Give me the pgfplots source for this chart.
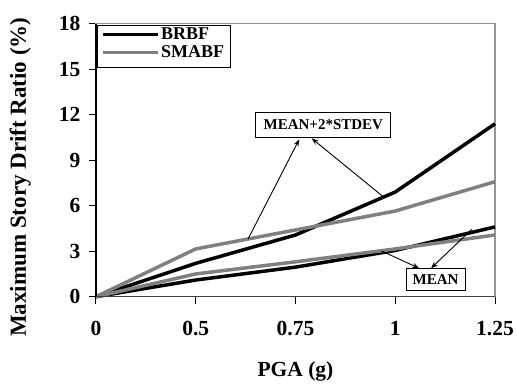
\documentclass[border=0pt]{standalone}
\usepackage{fontspec}
\setmainfont{Liberation Serif}
\usepackage{pgfplots}
\pgfplotsset{compat=1.18}
\usetikzlibrary{arrows.meta}
\definecolor{smgray}{RGB}{128,128,128}
\definecolor{axgray}{RGB}{150,150,150}
\begin{document}
\begin{tikzpicture}
\begin{axis}[name=ax, scale only axis, width=399pt, height=273pt,
 xmin=0, xmax=4, ymin=0, ymax=18,
 xtick={0,1,2,3,4}, xticklabels={0,0.5,0.75,1,1.25},
 ytick={0,3,...,18},
 tick align=outside, xtick pos=bottom, ytick pos=left,
 major tick length=7pt,
 tick style={black, line width=1pt},
 axis line style={axgray, line width=1.2pt},
 /pgf/number format/assume math mode=true,
 ticklabel style={font=\fontsize{21.5}{21.5}\selectfont\bfseries},
 xticklabel style={yshift=-14pt},
 yticklabel style={xshift=-5pt},
 xlabel={PGA (g)}, ylabel={Maximum Story Drift Ratio (\%)},
 xlabel style={font=\fontsize{21.5}{21.5}\selectfont\bfseries, at={(axis description cs:0.5,-0.272)}, anchor=center},
 ylabel style={font=\fontsize{23}{23}\selectfont\bfseries, at={(axis description cs:-0.19,0.438)}, anchor=center},
 legend style={at={(rel axis cs:0.002,0.996)}, anchor=north west, draw=black, line width=0.8pt,
   font=\fontsize{18}{18}\selectfont\bfseries, inner xsep=4pt, inner ysep=1pt, row sep=0pt},
 legend cell align=left,
 legend image code/.code={\draw[#1, line width=3pt] (0pt,0pt) -- (55pt,0pt);},
 clip=false,
]
\addplot[black, line width=3.5pt, line join=round] table {
x y
0 0
1 2.2
2 4.07
3 6.9
4 11.4
};
\addlegendentry{BRBF}
\addplot[smgray, line width=3.5pt, line join=round] table {
x y
0 0
1 3.15
2 4.4
3 5.65
4 7.58
};
\addlegendentry{SMABF}
\addlegendimage{empty legend}
\addlegendentry{}
\addplot[black, line width=3.5pt, line join=round, forget plot] table {
x y
0 0
1 1.1
2 1.95
3 3.05
4 4.6
};
\addplot[smgray, line width=3.5pt, line join=round, forget plot] table {
x y
0 0
1 1.5
2 2.3
3 3.15
4 4.07
};
\draw[black, line width=1.2pt] (rel axis cs:0,1) -- (rel axis cs:0,0);
\draw[black!75, line width=1.2pt] (rel axis cs:0,0) -- (rel axis cs:1,0);
\node[draw=black, line width=0.8pt, fill=white, minimum width=135pt, minimum height=25pt, inner sep=0pt,
  font=\fontsize{15}{15}\selectfont\bfseries] at (axis cs:2.279,11.32) {MEAN+2*STDEV};
\node[draw=black, line width=0.8pt, fill=white, minimum width=59pt, minimum height=22pt, inner sep=0pt,
  font=\fontsize{15}{15}\selectfont\bfseries] at (axis cs:3.404,1.11) {MEAN};
\draw[-{Stealth[length=7pt,width=5pt]}, line width=0.9pt] (axis cs:1.524,3.80) -- (axis cs:2.038,10.38);
\draw[-{Stealth[length=7pt,width=5pt]}, line width=0.9pt] (axis cs:2.880,6.59) -- (axis cs:2.162,10.44);
\draw[-{Stealth[length=7pt,width=5pt]}, line width=0.9pt] (axis cs:2.864,3.01) -- (axis cs:3.241,1.87);
\draw[-{Stealth[length=7pt,width=5pt]}, line width=0.9pt] (axis cs:3.766,4.44) -- (axis cs:3.358,1.87);
\end{axis}
\pgfresetboundingbox
\path[use as bounding box] (ax.south west) ++(-96pt,-88.3pt) rectangle ++(517pt,385pt);
\end{tikzpicture}
\end{document}
